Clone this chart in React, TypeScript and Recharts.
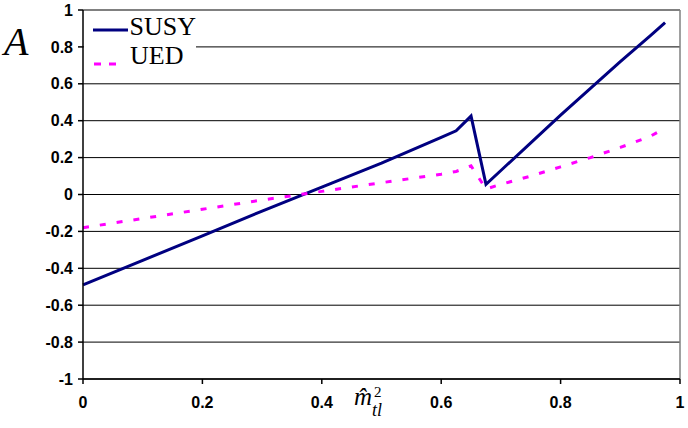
import React from 'react';
import { LineChart, Line, XAxis, YAxis, CartesianGrid, ReferenceLine, Legend } from 'recharts';

const mValues = [0, 0.1, 0.2, 0.3, 0.4, 0.5, 0.6, 0.625, 0.65, 0.675, 0.7, 0.75, 0.8, 0.85, 0.9, 0.95, 0.975];
const susyValues = [-0.49, -0.357, -0.224, -0.09, 0.04, 0.17, 0.31, 0.345, 0.425, 0.055, 0.13, 0.28, 0.43, 0.575, 0.72, 0.86, 0.932];
const uedValues = [-0.18, -0.13, -0.08, -0.03, 0.017, 0.064, 0.11, 0.125, 0.155, 0.03, 0.055, 0.1, 0.15, 0.2, 0.255, 0.315, 0.36];
const xTicks = [0, 0.2, 0.4, 0.6, 0.8, 1];
const yTicks = [-1, -0.8, -0.6, -0.4, -0.2, 0, 0.2, 0.4, 0.6, 0.8, 1];

const data = mValues.map((x, i) => ({ x, susy: susyValues[i], ued: uedValues[i] }));

const serif = 'Liberation Serif, Times New Roman, serif';
const tickStyle = { fontFamily: 'Liberation Sans, Arial, sans-serif', fontSize: 16, fontWeight: 'bold', fill: '#000' };

function renderLegend() {
  return (
    <div style={{ background: '#fff', width: 112, height: 60, fontFamily: serif, fontSize: 26, lineHeight: '28px', color: '#000' }}>
      <div style={{ display: 'flex', alignItems: 'center', height: 30 }}>
        <svg width={46} height={30}><line x1={9} y1={18} x2={44} y2={18} stroke="#000080" strokeWidth={3} /></svg>
        <span>SUSY</span>
      </div>
      <div style={{ display: 'flex', alignItems: 'center', height: 28 }}>
        <svg width={46} height={28}><line x1={10} y1={22} x2={33} y2={22} stroke="#ff00ff" strokeWidth={3} strokeDasharray="7 8" /></svg>
        <span>UED</span>
      </div>
    </div>
  );
}

function XLabel() {
  return (
    <g fontFamily={serif} fill="#000">
      <text x={354} y={405} fontStyle="italic" fontSize={25}>{'m\u0302'}</text>
      <text x={374} y={397} fontSize={15}>2</text>
      <text x={372} y={416} fontStyle="italic" fontSize={18}>tl</text>
    </g>
  );
}

function YLabel() {
  return (
    <text x={4} y={55} fontFamily={serif} fontStyle="italic" fontSize={40} fill="#000">A</text>
  );
}

export default function App() {
  return (
    <div style={{ position: 'absolute', left: 0, top: 0 }}>
      <LineChart width={688} height={428} data={data} margin={{ top: 10, right: 8, bottom: 0, left: 0 }}>
        <CartesianGrid horizontal vertical={false} stroke="#000" strokeWidth={1} horizontalValues={yTicks} />
        <ReferenceLine y={1} stroke="#808080" strokeWidth={1.5} />
        <ReferenceLine x={1} stroke="#808080" strokeWidth={1.5} />
        <XAxis
          dataKey="x"
          type="number"
          domain={[0, 1]}
          ticks={xTicks}
          height={49}
          tick={tickStyle}
          tickSize={5}
          tickMargin={13}
          axisLine={{ stroke: '#000', strokeWidth: 1.5 }}
          tickLine={{ stroke: '#000', strokeWidth: 1.5 }}
          tickFormatter={(v) => String(v)}
          label={{ content: () => <XLabel /> }}
        />
        <YAxis
          type="number"
          domain={[-1, 1]}
          ticks={yTicks}
          width={83}
          tick={tickStyle}
          tickSize={5}
          tickMargin={5}
          axisLine={{ stroke: '#000', strokeWidth: 1.5 }}
          tickLine={{ stroke: '#000', strokeWidth: 1.5 }}
          tickFormatter={(v) => String(v)}
          label={{ content: () => <YLabel /> }}
        />
        <Legend
          layout="horizontal"
          verticalAlign="middle"
          align="center"
          content={renderLegend}
          wrapperStyle={{ position: 'absolute', left: 84, top: 12, width: 112, height: 60 }}
        />
        <Line type="linear" dataKey="susy" stroke="#000080" strokeWidth={3} dot={false} isAnimationActive={false} />
        <Line type="linear" dataKey="ued" stroke="#ff00ff" strokeWidth={3} strokeDasharray="6 11" dot={false} isAnimationActive={false} />
      </LineChart>
    </div>
  );
}
